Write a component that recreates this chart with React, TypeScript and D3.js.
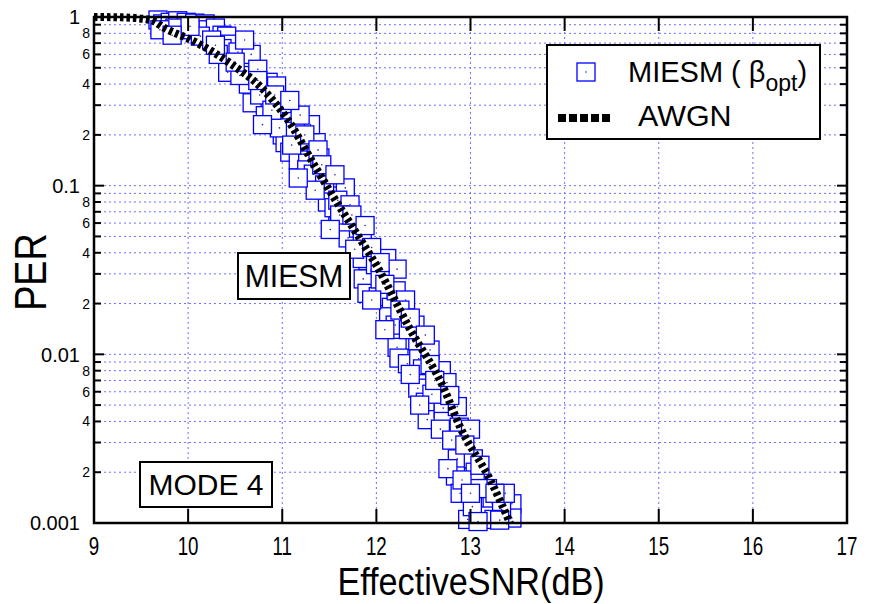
import React from 'react';
import * as d3 from 'd3';

const snrTicks = [9, 10, 11, 12, 13, 14, 15, 16, 17];
const majorPerLabels: Record<string, string> = { '0.001': '0.001', '0.01': '0.01', '0.1': '0.1', '1': '1' };

const awgnSnr = [9.0, 9.3, 9.6, 9.75, 10.1, 10.45, 10.8, 11.05, 11.37, 11.65, 11.83, 12.01, 12.36, 12.71, 12.89, 13.21, 13.42];
const awgnPer = [1.0, 0.995, 0.96, 0.86, 0.70, 0.53, 0.37, 0.25, 0.124, 0.069, 0.048, 0.033, 0.014, 0.0064, 0.0037, 0.0018, 0.001];

const miesmSnr = [
  9.68, 9.73, 9.81, 9.89, 9.98, 10.07, 10.09, 10.18, 10.21, 10.29,
  10.36, 10.41, 9.97, 9.86, 10.13, 10.25, 10.45, 10.36, 10.53, 10.42,
  10.57, 10.67, 10.64, 10.85, 10.94, 10.68, 10.82, 11.03, 11.0, 11.1,
  11.0, 11.03, 10.97, 11.08, 11.17, 11.27, 11.26, 11.33, 11.36, 11.3,
  11.49, 11.45, 11.48, 11.67, 11.65, 11.59, 11.7, 11.81, 11.85, 11.91,
  12.11, 12.22, 11.55, 11.69, 11.85, 11.86, 11.9, 12.02, 12.16, 12.13,
  12.2, 12.21, 12.41, 12.44, 12.22, 12.24, 12.33, 12.45, 12.49, 12.69,
  12.44, 12.75, 12.44, 12.52, 12.54, 12.71, 12.71, 12.86, 12.88, 12.89,
  12.86, 13.03, 13.05, 12.84, 12.89, 13.18, 13.23, 12.97, 13.16, 13.44,
  13.44, 13.33, 13.02, 13.25,
  11.19, 11.14, 11.4, 11.59, 11.72, 11.77, 11.99, 12.04, 12.31, 12.34, 12.57, 12.59, 13.0, 13.08, 13.37,
  10.76, 10.55, 10.74, 10.32, 10.02, 10.89,
  11.19, 11.24, 11.38, 11.42, 11.1, 11.35, 11.56, 11.61, 11.74, 11.51,
  11.88, 11.95, 12.04, 12.09, 11.95, 12.25, 12.36, 12.09, 12.52, 12.57,
  12.36, 12.62, 12.78, 12.46, 12.68, 12.8, 12.94, 12.76, 12.91, 13.1,
  13.0, 13.26, 13.31, 13.08, 9.7, 9.83, 10.29, 10.6, 10.5, 10.74,
  10.92, 11.08, 10.79, 11.17,
];
const miesmPer = [
  0.96, 0.91, 0.93, 0.95, 0.93, 0.92, 0.86, 0.91, 0.84, 0.86,
  0.78, 0.77, 0.84, 0.86, 0.77, 0.73, 0.69, 0.65, 0.62, 0.47,
  0.5, 0.6, 0.4, 0.41, 0.39, 0.31, 0.26, 0.31, 0.26, 0.24,
  0.2, 0.18, 0.22, 0.158, 0.142, 0.136, 0.124, 0.117, 0.18, 0.23,
  0.111, 0.101, 0.08, 0.097, 0.064, 0.057, 0.049, 0.056, 0.046, 0.036,
  0.037, 0.032, 0.074, 0.061, 0.037, 0.028, 0.023, 0.022, 0.019, 0.0167,
  0.0149, 0.0238, 0.0149, 0.012, 0.011, 0.0095, 0.0088, 0.0094, 0.0082, 0.008,
  0.0067, 0.0068, 0.0063, 0.0052, 0.0041, 0.0048, 0.004, 0.0049, 0.0037, 0.003,
  0.0024, 0.0024, 0.002, 0.0019, 0.0015, 0.0016, 0.0013, 0.00105, 0.0011, 0.0013,
  0.00107, 0.0012, 0.00125, 0.00105,
  0.187, 0.21, 0.146, 0.082, 0.077, 0.042, 0.034, 0.028, 0.021, 0.014, 0.0106, 0.0058, 0.0036, 0.0016, 0.0015,
  0.345, 0.45, 0.49, 0.6, 0.88, 0.28,
  0.262, 0.2, 0.163, 0.133, 0.174, 0.094, 0.116, 0.067, 0.067, 0.055,
  0.058, 0.043, 0.035, 0.026, 0.021, 0.0183, 0.0164, 0.014, 0.013, 0.0087,
  0.0076, 0.007, 0.0057, 0.005, 0.0036, 0.0031, 0.0029, 0.0021, 0.0018, 0.0022,
  0.0015, 0.0015, 0.00104, 0.00102, 0.84, 0.78, 0.68, 0.73, 0.54, 0.42,
  0.345, 0.32, 0.23, 0.111,
];

const FONT = '"Liberation Sans", Arial, Helvetica, sans-serif';
const GRID = '#6f6fff';
const BLUE = '#0000ff';

export default function App() {
  const left = 94, right = 847, top = 17, bottom = 523;
  const x = d3.scaleLinear().domain([9, 17]).range([left, right]);
  const y = d3.scaleLog().domain([0.001, 1]).range([bottom, top]);
  const yTicks = y.ticks();
  const awgn: [number, number][] = awgnSnr.map((s, i) => [s, awgnPer[i]]);
  const line = d3.line<[number, number]>().x(d => x(d[0])).y(d => y(d[1])).curve(d3.curveMonotoneX);
  const ms = 18;

  const isMajor = (v: number) => Math.abs(Math.log10(v) - Math.round(Math.log10(v))) < 1e-6;
  const mantissa = (v: number) => Math.round(v / Math.pow(10, Math.floor(Math.log10(v) + 1e-9)));

  return (
    <svg width={869} height={604} style={{ position: 'absolute', left: 0, top: 0, background: '#fff' }} fontFamily={FONT}>
      <rect x={0} y={0} width={869} height={604} fill="#fff" />
      {/* grid */}
      {yTicks.map((v, i) => (
        <line key={'gy' + i} x1={left} x2={right} y1={y(v)} y2={y(v)} stroke={GRID} strokeWidth={1} strokeDasharray="2,3" />
      ))}
      {snrTicks.map((v, i) => (
        <line key={'gx' + i} x1={x(v)} x2={x(v)} y1={top} y2={bottom} stroke={GRID} strokeWidth={1} strokeDasharray="2,3" />
      ))}
      {/* markers */}
      {miesmSnr.map((s, i) => (
        <g key={'m' + i}>
          <rect x={x(s) - ms / 2} y={y(miesmPer[i]) - ms / 2} width={ms} height={ms} fill="#fff" stroke={BLUE} strokeWidth={1.3} />
          <circle cx={x(s)} cy={y(miesmPer[i])} r={0.8} fill="#2222aa" />
        </g>
      ))}
      {/* AWGN curve */}
      <path d={line(awgn) || ''} fill="none" stroke="#000" strokeWidth={8} strokeDasharray="3.5,3" />
      {/* frame */}
      <rect x={left} y={top} width={right - left} height={bottom - top} fill="none" stroke="#000" strokeWidth={2.5} />
      {/* x ticks */}
      {snrTicks.map((v, i) => (
        <g key={'xt' + i}>
          <line x1={x(v)} x2={x(v)} y1={bottom} y2={bottom - 14} stroke="#000" strokeWidth={2} />
          <line x1={x(v)} x2={x(v)} y1={top} y2={top + 14} stroke="#000" strokeWidth={2} />
          <text transform={`translate(${x(v)},${bottom + 32}) scale(0.75,1)`} textAnchor="middle" fontSize={25}>{v}</text>
        </g>
      ))}
      {/* y ticks */}
      {yTicks.map((v, i) => {
        const major = isMajor(v);
        const len = major ? 10 : 7;
        const m = mantissa(v);
        return (
          <g key={'yt' + i}>
            <line x1={left} x2={left + len} y1={y(v)} y2={y(v)} stroke="#000" strokeWidth={2} />
            <line x1={right} x2={right - len} y1={y(v)} y2={y(v)} stroke="#000" strokeWidth={2} />
            {major ? (
              <text x={80} y={y(v)} dy="0.36em" textAnchor="end" fontSize={20}>{majorPerLabels[String(v)] ?? String(v)}</text>
            ) : m % 2 === 0 ? (
              <text x={90} y={y(v)} dy="0.36em" textAnchor="end" fontSize={14}>{m}</text>
            ) : null}
          </g>
        );
      })}
      {/* axis titles */}
      <text transform={`translate(471,595) scale(0.9,1)`} textAnchor="middle" fontSize={38}>EffectiveSNR(dB)</text>
      <text transform={`translate(46,272) rotate(-90) scale(0.84,1)`} textAnchor="middle" fontSize={45}>PER</text>
      {/* annotations */}
      <rect x={238} y={253} width={112} height={46} fill="#fff" stroke="#000" strokeWidth={2} />
      <text transform="translate(294,287) scale(0.97,1)" textAnchor="middle" fontSize={31}>MIESM</text>
      <rect x={140} y={462} width={132} height={45} fill="#fff" stroke="#000" strokeWidth={2} />
      <text x={206} y={495} textAnchor="middle" fontSize={30}>MODE 4</text>
      {/* legend */}
      <rect x={547} y={45} width={273} height={94} fill="#fff" stroke="#000" strokeWidth={2} />
      <rect x={586 - 9} y={72 - 9} width={18} height={18} fill="#fff" stroke={BLUE} strokeWidth={1.3} />
      <circle cx={586} cy={72} r={0.8} fill="#2222aa" />
      <text x={628} y={82} fontSize={29}>
        MIESM (  β<tspan fontSize={23} dy={9}>opt</tspan><tspan dy={-9}>)</tspan>
      </text>
      <line x1={558} x2={613} y1={118} y2={118} stroke="#000" strokeWidth={8} strokeDasharray="8,3" />
      <text transform="translate(638,126) scale(1.05,1)" fontSize={29}>AWGN</text>
    </svg>
  );
}
